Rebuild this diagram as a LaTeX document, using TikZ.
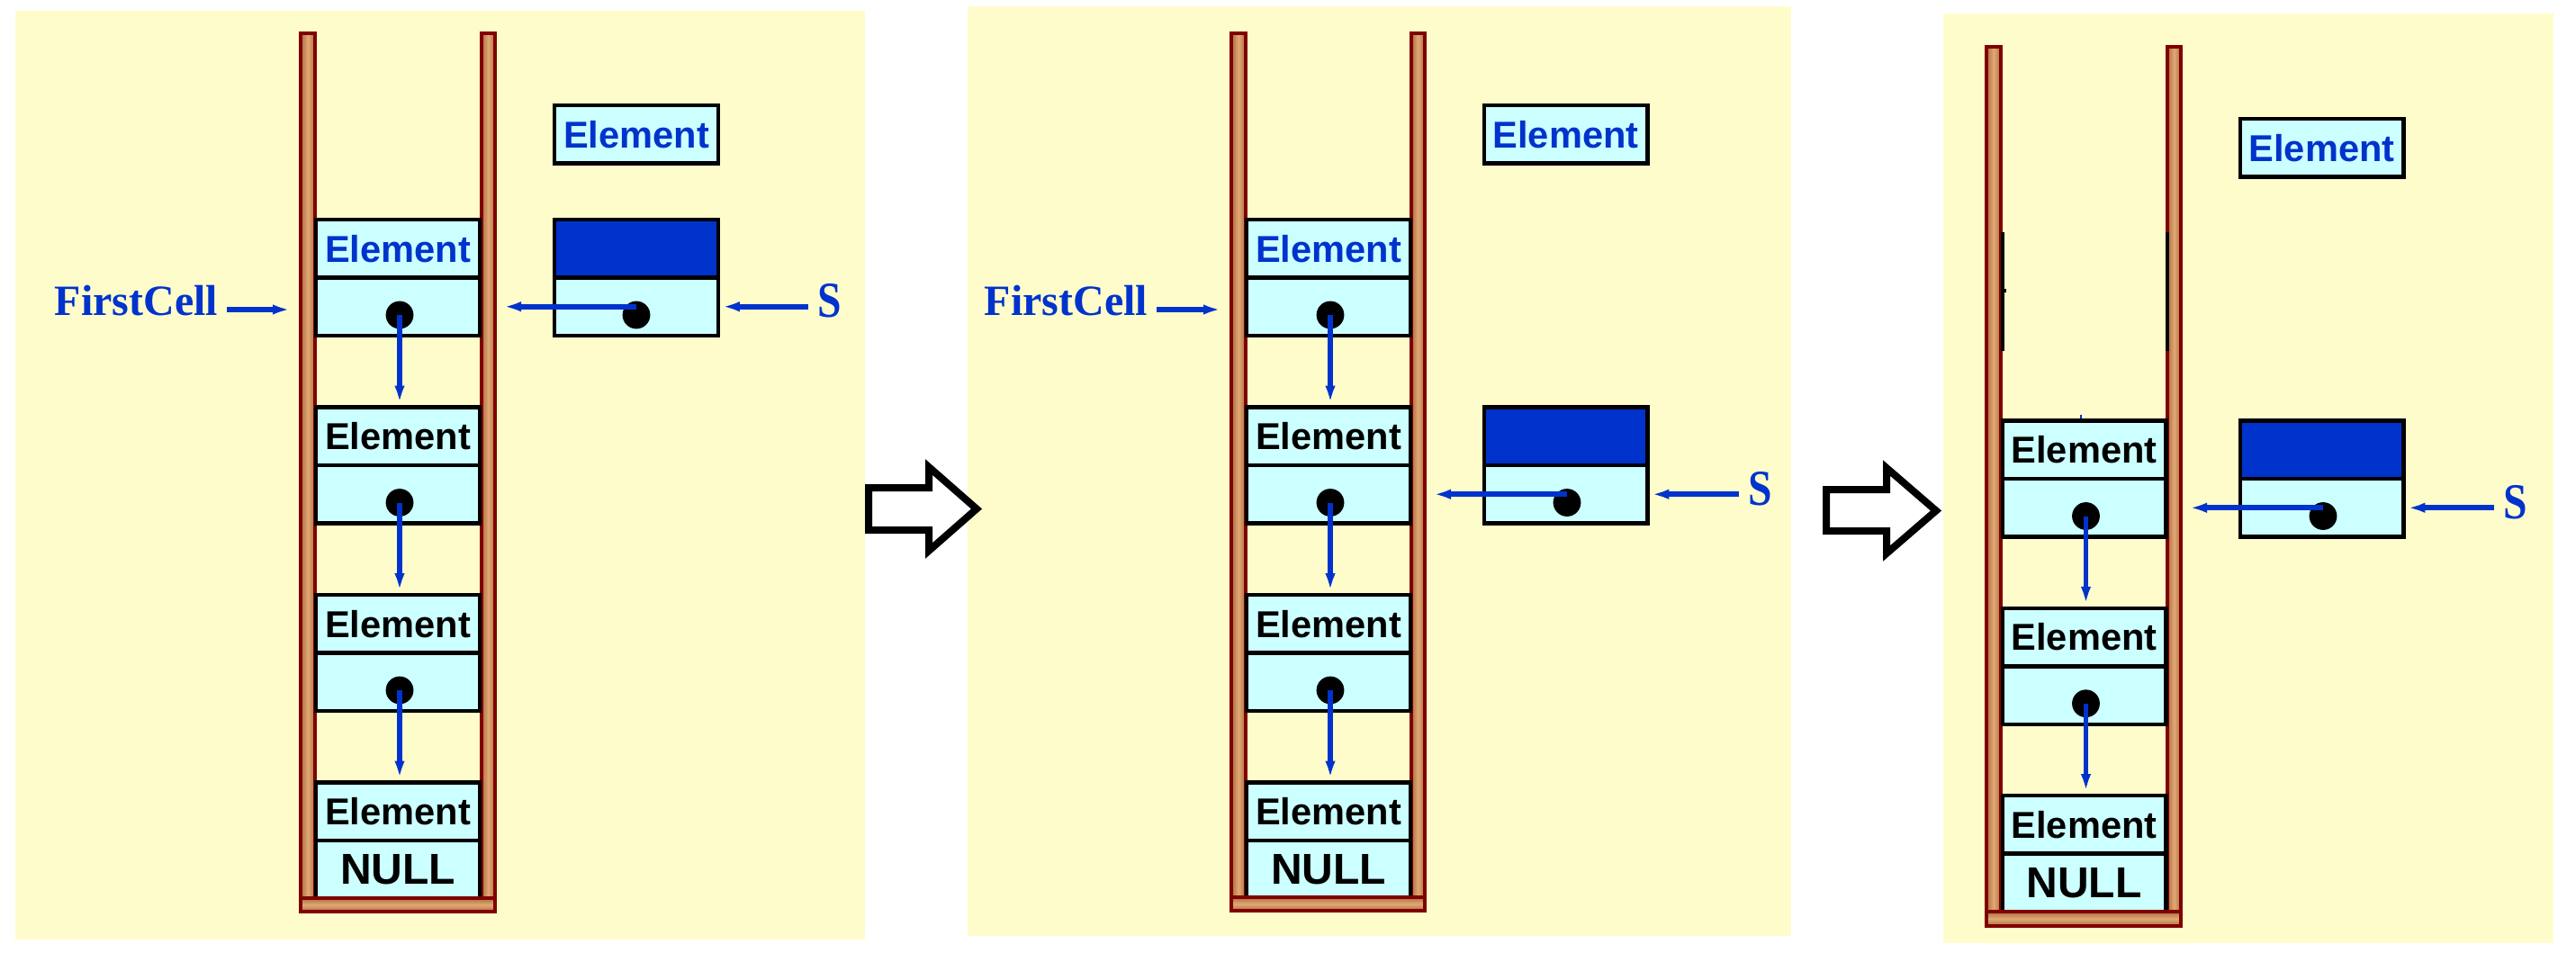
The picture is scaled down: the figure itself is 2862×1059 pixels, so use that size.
\documentclass[tikz,border=0pt]{standalone}
\usepackage{fontspec}
\usepackage{tikz}
\usetikzlibrary{arrows.meta}
\newfontfamily\cellfont{Liberation Sans}
\newfontfamily\labelfont{Liberation Serif}

\tikzset{
  panel/.style={fill=bgColor},
  wall/.style={draw=wallColor,line width=1pt,left color=woodDark,right color=woodDark,middle color=woodLight},
  floor/.style={draw=wallColor,line width=1pt,top color=woodDark,bottom color=woodDark,middle color=woodLight},
  cell/.style={draw=black,line width=1.1pt,fill=cellColor,minimum width=45.4pt,minimum height=16.1pt,
    inner sep=0pt,outer sep=0pt,font=\cellfont\bfseries\fontsize{10.4}{12}\selectfont},
  topcell/.style={cell,text=linkColor},
  nullcell/.style={cell,font=\cellfont\bfseries\fontsize{12}{14}\selectfont},
  headcell/.style={cell,fill=linkColor},
  ptrdot/.style={circle,fill=black,inner sep=0pt,minimum size=7.7pt},
  ptr/.style={draw=linkColor,line width=1.4pt,-{Latex[length=6pt,width=2.7pt]}},
  varname/.style={text=linkColor,inner sep=0pt,outer sep=2.5pt,font=\labelfont\bfseries\fontsize{12}{14}\selectfont},
  bigletter/.style={varname,font=\labelfont\bfseries\fontsize{14}{16}\selectfont},
  bigarrow/.style={draw=black,line width=2pt,fill=white,line join=miter}
}

\begin{document}
\begin{tikzpicture}[x=0.25pt,y=-0.25pt]
\definecolor{bgColor}{RGB}{255,252,204}
\definecolor{cellColor}{RGB}{204,255,255}
\definecolor{linkColor}{RGB}{0,51,204}
\definecolor{wallColor}{RGB}{128,0,0}
\definecolor{woodDark}{RGB}{172,110,62}
\definecolor{woodLight}{RGB}{226,168,118}
\path[use as bounding box,fill=white] (0,0) rectangle (2862,1059);

% the three states
\path[panel] (17,12) rectangle (961,1044);
\path[panel] (1075,7) rectangle (1990,1040);
\path[panel] (2159,15) rectangle (2837,1048);

\path[bigarrow] (965,542) -- (1032,542) -- (1032,519) -- (1085,565.5) -- (1032,612) -- (1032,589) -- (965,589) -- cycle;
\path[bigarrow] (2029,544) -- (2096,544) -- (2096,520) -- (2151,567.5) -- (2096,615) -- (2096,590) -- (2029,590) -- cycle;

% state 1
\path[wall] (334,37) rectangle (350,1013);
\path[wall] (535,37) rectangle (550,1013);

\node[topcell] (aE1) at (442,276.25) {Element};
\node[cell] (aP1) at (442,340.75) {};
\node[cell] (aE2) at (442,484.75) {Element};
\node[cell] (aP2) at (442,549.25) {};
\node[cell] (aE3) at (442,693.25) {Element};
\node[cell] (aP3) at (442,757.75) {};
\node[cell] (aE4) at (442,901.75) {Element};
\node[nullcell] (aNull) at (442,966.25) {NULL};
\path[floor] (334,998) rectangle (550,1013);

\node[topcell] (aNew) at (707,149.5) {Element};
\node[headcell] (aHead) at (707,276.25) {};
\node[cell] (aLink) at (707,340.75) {};

\node[ptrdot] (aD1) at (444,350) {};
\node[ptrdot] (aD2) at (444,558.5) {};
\node[ptrdot] (aD3) at (444,767) {};
\node[ptrdot] (aDS) at (707,350) {};

\draw[ptr] (aD1.center) -- (aD1 |- aE2.north);
\draw[ptr] (aD2.center) -- (aD2 |- aE3.north);
\draw[ptr] (aD3.center) -- (aD3 |- aE4.north);

\coordinate (aTipL) at (327,344);
\coordinate (aTipR) at (555,340.75);
\node[varname,anchor=base east] (aFirst) at (252,351) {FirstCell};
\draw[ptr] (aFirst.east |- aTipL) -- (aTipL);
\draw[ptr] (aDS.center |- aLink) -- (aTipR);
\node[bigletter,anchor=base west] (aS) at (898,353) {\scalebox{0.85}[1]{S}};
\draw[ptr] (aS.west |- aLink) -- (aLink.east);

% state 2
\path[wall] (1368,37) rectangle (1384,1012);
\path[wall] (1568,37) rectangle (1583,1012);

\node[topcell] (bE1) at (1476,276.25) {Element};
\node[cell] (bP1) at (1476,340.75) {};
\node[cell] (bE2) at (1476,484.75) {Element};
\node[cell] (bP2) at (1476,549.25) {};
\node[cell] (bE3) at (1476,693.25) {Element};
\node[cell] (bP3) at (1476,757.75) {};
\node[cell] (bE4) at (1476,901.75) {Element};
\node[nullcell] (bNull) at (1476,966.25) {NULL};
\path[floor] (1368,997) rectangle (1583,1012);

\node[topcell] (bNew) at (1739.5,149.5) {Element};
\node[headcell] (bHead) at (1739.5,484.75) {};
\node[cell] (bLink) at (1739.5,549.25) {};

\node[ptrdot] (bD1) at (1478,350) {};
\node[ptrdot] (bD2) at (1478,558.5) {};
\node[ptrdot] (bD3) at (1478,767) {};
\node[ptrdot] (bDS) at (1741,558.5) {};

\draw[ptr] (bD1.center) -- (bD1 |- bE2.north);
\draw[ptr] (bD2.center) -- (bD2 |- bE3.north);
\draw[ptr] (bD3.center) -- (bD3 |- bE4.north);

\coordinate (bTipL) at (1361,344);
\coordinate (bTipR) at (1588,549.25);
\node[varname,anchor=base east] (bFirst) at (1285,351) {FirstCell};
\draw[ptr] (bFirst.east |- bTipL) -- (bTipL);
\draw[ptr] (bDS.center |- bLink) -- (bTipR);
\node[bigletter,anchor=base west] (bS) at (1932,561) {\scalebox{0.85}[1]{S}};
\draw[ptr] (bS.west |- bLink) -- (bLink.east);

% state 3
\path[wall] (2207,52.5) rectangle (2223,1029);
\path[wall] (2408,52.5) rectangle (2423,1029);
\draw[black,line width=1pt] (2224.5,258) -- (2224.5,390);
\draw[black,line width=1pt] (2408,258) -- (2408,390);
\draw[black,line width=1pt] (2223,323) -- (2229,323);
\draw[linkColor,line width=0.4pt] (2312,461) -- (2312,469);

\node[cell] (cE1) at (2315.5,499.75) {Element};
\node[cell] (cP1) at (2315.5,564.25) {};
\node[cell] (cE2) at (2315.5,708) {Element};
\node[cell] (cP2) at (2315.5,772.5) {};
\node[cell] (cE3) at (2315.5,916.25) {Element};
\node[nullcell] (cNull) at (2315.5,980.75) {NULL};
\path[floor] (2207,1013) rectangle (2423,1029);

\node[topcell] (cNew) at (2579.5,164.5) {Element};
\node[headcell] (cHead) at (2579.5,499.75) {};
\node[cell] (cLink) at (2579.5,564.25) {};

\node[ptrdot] (cD1) at (2317.5,573.5) {};
\node[ptrdot] (cD2) at (2317.5,781.75) {};
\node[ptrdot] (cDS) at (2581,573.5) {};

\draw[ptr] (cD1.center) -- (cD1 |- cE2.north);
\draw[ptr] (cD2.center) -- (cD2 |- cE3.north);

\coordinate (cTipR) at (2428,564.25);
\draw[ptr] (cDS.center |- cLink) -- (cTipR);
\node[bigletter,anchor=base west] (cS) at (2771,576) {\scalebox{0.85}[1]{S}};
\draw[ptr] (cS.west |- cLink) -- (cLink.east);
\end{tikzpicture}
\end{document}
